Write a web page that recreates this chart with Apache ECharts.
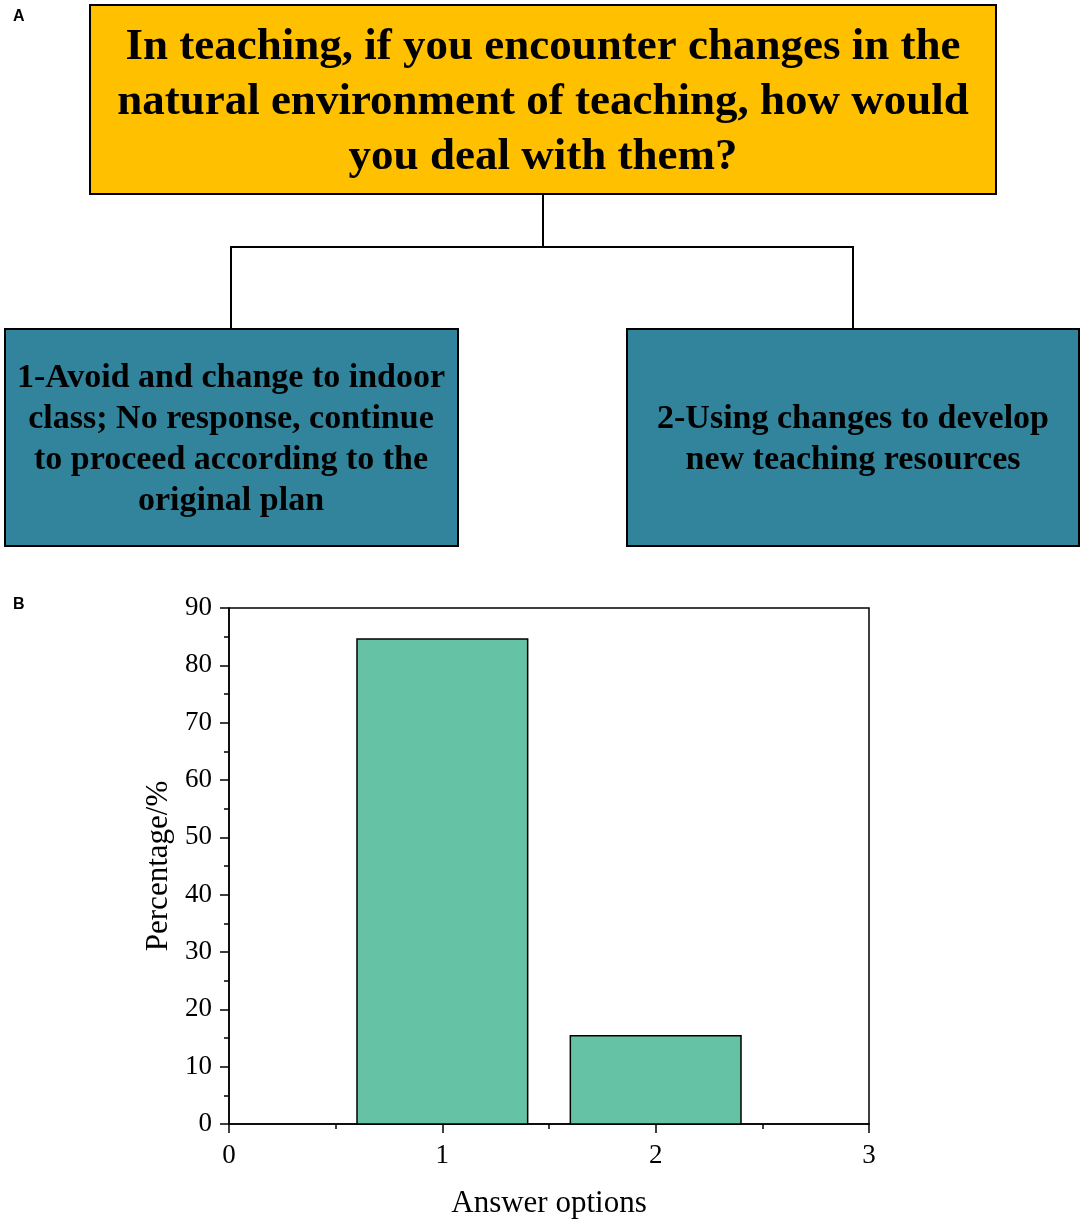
<!DOCTYPE html>
<html><head><meta charset="utf-8">
<script src="https://cdn.jsdelivr.net/npm/echarts@6/dist/echarts.min.js"></script>
<style>html,body{margin:0;padding:0;background:#fff}#c{width:1084px;height:1226px}</style>
</head><body><div id="c"></div>
<script>
var categories = [1, 2];
var percentages = [84.6, 15.4];
var xTicks = [0, 1, 2, 3];
var yTicks = [0, 10, 20, 30, 40, 50, 60, 70, 80, 90];
var questionText = 'In teaching, if you encounter changes in the\nnatural environment of teaching, how would\nyou deal with them?';
var option1Text = '1-Avoid and change to indoor\nclass; No response, continue\nto proceed according to the\noriginal plan';
var option2Text = '2-Using changes to develop\nnew teaching resources';

var chart = echarts.init(document.getElementById('c'));
var serif = '"Liberation Serif","Times New Roman",serif';
var sans = '"Liberation Sans", Arial, sans-serif';
var lineStyle = {stroke: '#000', lineWidth: 2};
chart.setOption({
  animation: false,
  backgroundColor: '#fff',
  grid: {left: 229, right: 215, top: 608, bottom: 102, show: true, borderColor: '#000', borderWidth: 1.5, backgroundColor: 'transparent'},
  xAxis: {
    type: 'value', min: xTicks[0], max: xTicks[xTicks.length - 1], interval: 1,
    name: 'Answer options', nameLocation: 'middle', nameGap: 64,
    nameTextStyle: {fontFamily: serif, fontSize: 31, color: '#000'},
    axisLine: {show: true, lineStyle: {color: '#000', width: 1.5}},
    axisTick: {show: true, inside: false, length: 9, lineStyle: {color: '#000', width: 1.5}},
    minorTick: {show: true, splitNumber: 2, length: 5, lineStyle: {color: '#000', width: 1.5}},
    axisLabel: {fontFamily: serif, fontSize: 27, color: '#000', margin: 18},
    splitLine: {show: false}
  },
  yAxis: {
    type: 'value', min: yTicks[0], max: yTicks[yTicks.length - 1], interval: 10,
    name: 'Percentage/%', nameLocation: 'middle', nameGap: 51, nameRotate: 90,
    nameTextStyle: {fontFamily: serif, fontSize: 31, color: '#000'},
    axisLine: {show: true, lineStyle: {color: '#000', width: 1.5}},
    axisTick: {show: true, inside: false, length: 9, lineStyle: {color: '#000', width: 1.5}},
    minorTick: {show: true, splitNumber: 2, length: 5, lineStyle: {color: '#000', width: 1.5}},
    axisLabel: {fontFamily: serif, fontSize: 27, color: '#000', margin: 17},
    splitLine: {show: false}
  },
  series: [{
    type: 'custom',
    data: categories.map(function (c, i) { return [c, percentages[i]]; }),
    renderItem: function (params, api) {
      var x = api.value(0), y = api.value(1);
      var p1 = api.coord([x - 0.4, y]);
      var p2 = api.coord([x + 0.4, 0]);
      return {
        type: 'rect',
        shape: {x: p1[0], y: p1[1], width: p2[0] - p1[0], height: p2[1] - p1[1]},
        style: {fill: '#66C2A5', stroke: '#000', lineWidth: 1.5}
      };
    }
  }],
  graphic: [
    {type: 'text', left: 13, top: 9, style: {text: 'A', fontSize: 16, fontWeight: 'bold', fontFamily: sans, fill: '#000'}},
    {type: 'text', left: 13, top: 597, style: {text: 'B', fontSize: 16, fontWeight: 'bold', fontFamily: sans, fill: '#000'}},
    {type: 'rect', shape: {x: 90, y: 5, width: 906, height: 189}, style: {fill: '#FFC000', stroke: '#000', lineWidth: 2}},
    {type: 'text', x: 543, y: 102, style: {text: questionText, fontSize: 45, fontWeight: 'bold', fontFamily: serif, fill: '#000', align: 'center', verticalAlign: 'middle', lineHeight: 55}},
    {type: 'polyline', shape: {points: [[543, 194], [543, 247]]}, style: lineStyle},
    {type: 'polyline', shape: {points: [[231, 329], [231, 247], [853, 247], [853, 329]]}, style: {stroke: '#000', lineWidth: 2, fill: null}},
    {type: 'rect', shape: {x: 5, y: 329, width: 453, height: 217}, style: {fill: '#31849B', stroke: '#000', lineWidth: 2}},
    {type: 'text', x: 231, y: 440, style: {text: option1Text, fontSize: 34, fontWeight: 'bold', fontFamily: serif, fill: '#000', align: 'center', verticalAlign: 'middle', lineHeight: 41}},
    {type: 'rect', shape: {x: 627, y: 329, width: 452, height: 217}, style: {fill: '#31849B', stroke: '#000', lineWidth: 2}},
    {type: 'text', x: 853, y: 440, style: {text: option2Text, fontSize: 34, fontWeight: 'bold', fontFamily: serif, fill: '#000', align: 'center', verticalAlign: 'middle', lineHeight: 41}}
  ]
});
</script></body></html>
